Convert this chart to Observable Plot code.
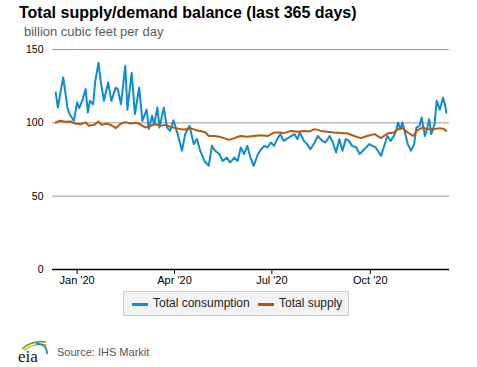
<!DOCTYPE html>
<html><head><meta charset="utf-8">
<script src="https://cdn.jsdelivr.net/npm/d3@7"></script>
<script src="https://cdn.jsdelivr.net/npm/@observablehq/plot@0.6"></script>
<style>
body{margin:0;background:#fff;font-family:"Liberation Sans",Arial,sans-serif;}
#wrap{position:relative;width:477px;height:367px;overflow:hidden;background:#fff;}
#chart{position:absolute;left:0;top:0;}
.abs{position:absolute;white-space:nowrap;}
#title{left:19px;top:4.5px;font-size:16px;line-height:16px;font-weight:bold;color:#000;}
#subtitle{left:24px;top:25px;font-size:13px;line-height:13px;color:#5c5c5c;}
#legend{left:123px;top:291px;width:224px;height:23px;background:#f2f2f2;border:1px solid #cfcfcf;}
.sw{position:absolute;height:3px;width:16px;top:11px;}
.lt{position:absolute;top:5px;font-size:12px;line-height:12px;color:#222;}
#source{left:57px;top:347px;font-size:11px;line-height:11px;color:#555;}
#logo{left:16px;top:337px;}
</style></head>
<body><div id="wrap">
<div id="chart"></div>
<div id="title" class="abs">Total supply/demand balance (last 365 days)</div>
<div id="subtitle" class="abs">billion cubic feet per day</div>
<div id="legend" class="abs"></div>
<svg id="logo" class="abs" width="36" height="28" viewBox="0 0 36 28">
  <path d="M6 12 Q16 3 30 5" fill="none" stroke="#5aa832" stroke-width="1.6"/>
  <path d="M8 13 Q18 6 31 8" fill="none" stroke="#f2b400" stroke-width="1.6"/>
  <path d="M20 7 Q31 6 31 17" fill="none" stroke="#1e7fc6" stroke-width="1.8"/>
  <text x="2" y="25" font-family="'Liberation Serif','DejaVu Serif',serif" font-size="17" fill="#111">eia</text>
</svg>
<div id="source" class="abs">Source: IHS Markit</div>
</div>
<script>
// Series names and colours
const seriesNames = ["Total consumption", "Total supply"];
const seriesColors = ["#0f8bd4", "#b5590f"];

// Days relative to 1 Jan 2020 (daily data, sampled), values in Bcf/d
const consDays = [-20,-18,-13,-12,-9,-7,-5,-3,0,2,5,8,10,12,15,17,20,22,25,29,32,36,38,41,45,47,51,54,58,61,65,67,70,72,75,77,81,84,87,90,94,98,101,105,109,112,115,119,123,126,129,133,136,140,143,147,150,153,156,159,162,165,169,172,175,178,181,184,187,190,193,197,200,203,206,208,212,215,218,222,225,229,232,236,239,242,245,248,251,254,257,261,264,267,270,273,276,279,284,288,290,293,296,298,300,302,304,306,309,312,315,317,320,322,325,327,329,331,334,336,339,342,344,345];
const consVals = [120.7,110.4,131,126,110,106,103.6,101.4,114,110,115.5,123,107,115,112.7,128.6,141,128.6,115,127.5,115,124,123,112.7,139,109,134,106,124,101.4,109,95.7,104.8,99,110.4,96.8,110.4,96.8,94.5,101.8,92.3,81,92.3,98,85.5,89,81,74,70.7,84.3,81,78.7,74,76.3,73,76.3,74,83.2,78.7,84.3,76.3,70.7,78.7,82,84.3,83.2,86.6,84.3,88.9,92.3,87.7,89.6,91,92.3,88.9,93.4,87.7,85.5,82,86.6,91,87.7,86.6,91,86.6,79.8,88.9,81,88.9,87.7,84.3,83.2,78.7,81,83.2,85.5,84.3,83.2,77.5,86.6,91,87.7,91,94.5,100.2,95.7,100.2,94.5,85.5,81,85.5,96.8,98,103.6,91,95.7,102.5,92.3,99,115,109,117.2,111.6,107];

const supplyDays = [-20,-16,-11,-6,-2,3,8,11,16,20,23,28,33,36,41,45,50,55,59,64,69,73,78,83,87,92,97,101,106,111,115,120,123,128,133,137,142,147,151,153,159,165,172,178,184,189,193,200,206,212,217,222,228,234,240,247,253,259,265,271,278,284,290,296,300,304,309,314,318,323,327,334,339,343,345];
const supplyVals = [100.2,101.4,100.7,100.9,99.5,99,100.2,98,98.6,100.9,98.6,99.5,98,96.4,99.5,100.5,99.5,100,99,96.8,98,99,98,98.6,97.3,96.4,95.7,95.5,96.4,95,94.5,93.4,91,91,90.5,89.6,88.4,89.6,90.7,91,90.5,91,91.6,91,93.4,93.4,93,94.5,93.9,94.5,94.1,95.7,94.5,93.9,93.4,93,92.7,91,89.6,91,92.3,89.6,92.7,93.4,95.7,96.4,93.4,91,95,96.8,95.7,95.7,96.4,95.7,94.5];

const yTicks = [0, 50, 100, 150];
const xTickDates = ["2020-01-01", "2020-04-01", "2020-07-01", "2020-10-01"];
const xDomain = ["2019-12-09", "2020-12-14"];

const base = Date.UTC(2020, 0, 1);
const toDate = d => new Date(base + d * 86400000);
const cons = d3.zip(consDays, consVals).map(([d, v]) => ({date: toDate(d), value: v}));
const supply = d3.zip(supplyDays, supplyVals).map(([d, v]) => ({date: toDate(d), value: v}));
const fmt = d3.utcFormat("%b '%y");

const chart = Plot.plot({
  width: 477, height: 290,
  marginLeft: 52, marginRight: 28, marginTop: 49, marginBottom: 21,
  style: {fontFamily: "'Liberation Sans', Arial, sans-serif", color: "#000", background: "transparent", overflow: "visible"},
  x: {type: "utc", domain: xDomain.map(s => new Date(s))},
  y: {domain: [0, 150]},
  marks: [
    Plot.ruleY(yTicks.filter(t => t > 0), {stroke: "#9a9a9a", strokeWidth: 1}),
    Plot.axisY({ticks: yTicks, tickSize: 0, tickPadding: 9, label: null, fontSize: 10.5, fill: "#000"}),
    Plot.axisX({ticks: xTickDates.map(s => new Date(s)), tickFormat: fmt, tickSize: 5, tickPadding: 2, label: null, fontSize: 11, fill: "#000", stroke: "#000"}),
    Plot.lineY(cons, {x: "date", y: "value", stroke: seriesColors[0], strokeWidth: 2}),
    Plot.lineY(supply, {x: "date", y: "value", stroke: seriesColors[1], strokeWidth: 2}),
    Plot.ruleY([0], {stroke: "#000", strokeWidth: 1.5})
  ]
});
document.getElementById("chart").appendChild(chart);

// Legend
const legend = document.getElementById("legend");
const swX = [8, 134], txX = [29, 155];
seriesNames.forEach((name, i) => {
  const sw = document.createElement("div");
  sw.className = "sw"; sw.style.left = swX[i] + "px"; sw.style.background = seriesColors[i];
  legend.appendChild(sw);
  const t = document.createElement("div");
  t.className = "lt"; t.style.left = txX[i] + "px"; t.textContent = name;
  legend.appendChild(t);
});
</script>
</body></html>
